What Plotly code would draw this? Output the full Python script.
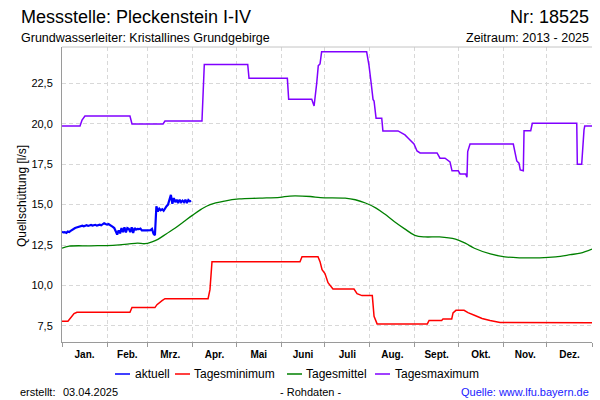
import plotly.graph_objects as go

# ---------------- data ----------------
month_labels = ["Jan.", "Feb.", "Mrz.", "Apr.", "Mai", "Juni", "Juli", "Aug.", "Sept.", "Okt.", "Nov.", "Dez."]
month_starts = [0, 31, 59, 90, 120, 151, 181, 212, 243, 273, 304, 334, 365]
y_ticks = [7.5, 10.0, 12.5, 15.0, 17.5, 20.0, 22.5]

aktuell_day = list(range(90))
aktuell_val = [13.32, 13.28, 13.30, 13.25, 13.33, 13.30, 13.38, 13.45, 13.50, 13.55,
               13.58, 13.62, 13.65, 13.66, 13.70, 13.66, 13.70, 13.72, 13.68, 13.70,
               13.74, 13.70, 13.72, 13.75, 13.70, 13.73, 13.76, 13.72, 13.78, 13.85,
               13.80, 13.76, 13.80, 13.72, 13.65, 13.62, 13.55, 13.35, 13.15, 13.40,
               13.22, 13.55, 13.30, 13.60, 13.28, 13.55, 13.50, 13.30, 13.60, 13.25,
               13.55, 13.45, 13.50, 13.48, 13.52, 13.40, 13.42, 13.40, 13.40, 13.42,
               13.40, 13.42, 13.50, 13.20, 13.10, 14.90, 14.58, 14.75, 14.65, 14.72,
               14.62, 14.80, 14.90, 15.00, 15.25, 15.60, 15.05, 15.40, 15.15, 15.30,
               15.10, 15.30, 15.15, 15.25, 15.15, 15.30, 15.10, 15.28, 15.20, 15.22]

min_day = [0, 4.1, 8.3, 10.3, 46.8, 48.2, 64, 65.4, 68.9, 70.9, 100.6, 101.9, 103.3, 163.9, 165.3,
           176.3, 177.7, 179.1, 181.1, 183.2, 186.6, 201.1, 203.2, 206.6, 213.7, 214.9, 217, 251.6,
           252.8, 261.5, 262.4, 268.4, 269.3, 271.3, 276.9, 279.6, 284.4, 289.3, 294.8, 301.7, 365]
min_val = [7.78, 7.78, 8.26, 8.34, 8.34, 8.63, 8.63, 8.81, 9.06, 9.18, 9.18, 9.74, 11.47, 11.47, 11.78,
           11.78, 11.47, 10.98, 10.73, 10.17, 9.78, 9.78, 9.49, 9.37, 9.37, 8.09, 7.62, 7.62,
           7.83, 7.83, 7.93, 7.93, 8.3, 8.46, 8.46, 8.32, 8.14, 7.95, 7.83, 7.7, 7.69]

mean_day = [0, 5, 20, 35, 45, 52, 57, 62, 66, 72, 78, 84, 90, 96, 102, 112, 122, 136, 150, 157, 171,
            178, 195, 202, 209, 216, 222, 229, 236, 243, 250, 260, 271, 278, 284, 295, 305, 315, 329,
            340, 350, 357, 365]
mean_val = [12.3, 12.43, 12.45, 12.48, 12.55, 12.62, 12.58, 12.7, 12.85, 13.2, 13.55, 13.95, 14.35, 14.72,
            15.0, 15.22, 15.35, 15.4, 15.45, 15.53, 15.5, 15.43, 15.4, 15.3, 15.1, 14.8, 14.43, 13.94,
            13.5, 13.1, 13.0, 13.0, 12.86, 12.6, 12.3, 11.95, 11.77, 11.71, 11.71, 11.77, 11.9, 12.0, 12.25]

max_day = [0, 12.4, 13.8, 15.8, 46.8, 48.2, 69.6, 70.9, 96.4, 98, 127.9, 128.8, 155.2, 156.1, 172,
           173.6, 175.4, 176.5, 177.7, 178.8, 209.8, 211.4, 212.8, 214.2, 214.9, 216.3, 220.2, 221,
           231.4, 234.2, 236.2, 238.3, 240.4, 242.4, 244.5, 246.6, 258.3, 260.3, 263.8, 265.2, 267.2,
           268.6, 272.9, 274.1, 278, 278.9, 279.4, 281, 310.8, 313.2, 314.7, 315.6, 317.7, 318.2,
           322.8, 323.9, 354.5, 354.9, 357.9, 359.5, 360, 365]
max_val = [19.86, 19.86, 20.23, 20.48, 20.48, 19.99, 19.99, 20.17, 20.17, 23.67, 23.67, 22.81, 22.81,
           21.51, 21.51, 21.1, 22.5, 23.6, 23.7, 24.45, 24.45, 23.63, 22.6, 21.51, 21.41, 20.34, 20.34,
           19.56, 19.56, 19.43, 19.31, 19.12, 18.94, 18.75, 18.32, 18.2, 18.2, 17.87, 17.87, 17.78,
           17.64, 17.09, 17.09, 16.9, 16.9, 16.7, 18.28, 18.75, 18.75, 17.7, 17.56, 17.15, 17.1,
           19.57, 19.57, 20.03, 20.03, 17.5, 17.5, 19.62, 19.86, 19.86]

series_names = ["aktuell", "Tagesminimum", "Tagesmittel", "Tagesmaximum"]
series_colors = ["#0000FF", "#FF0000", "#008000", "#8000FF"]

# ---------------- figure ----------------
W, H = 600, 400
L, R, T, B = 62, 592, 47, 342
FONT = "Liberation Sans, Arial, sans-serif"


def px(x):
    return (x - L) / (R - L)


def py(y):
    return (B - y) / (B - T)


fig = go.Figure()
fig.add_trace(go.Scatter(x=max_day, y=max_val, mode="lines", name=series_names[3],
                         line=dict(color=series_colors[3], width=1.5)))
fig.add_trace(go.Scatter(x=mean_day, y=mean_val, mode="lines", name=series_names[2], line_shape="spline",
                         line=dict(color=series_colors[2], width=1.3)))
fig.add_trace(go.Scatter(x=min_day, y=min_val, mode="lines", name=series_names[1],
                         line=dict(color=series_colors[1], width=1.5)))
fig.add_trace(go.Scatter(x=aktuell_day, y=aktuell_val, mode="lines", name=series_names[0],
                         line=dict(color=series_colors[0], width=2.2)))

mids = [(month_starts[i] + month_starts[i + 1]) / 2 for i in range(12)]

fig.update_layout(
    width=W, height=H,
    margin=dict(l=L, r=W - R, t=T, b=H - B),
    paper_bgcolor="white", plot_bgcolor="white",
    showlegend=False,
    separators=",.",
    font=dict(family=FONT, color="black"),
    xaxis=dict(
        range=[0, 365], tickmode="array", tickvals=mids, ticktext=month_labels,
        ticks="", showgrid=False, zeroline=False,
        showline=True, linecolor="#9a9a9a", linewidth=1,
        tickfont=dict(size=10, weight="bold", family=FONT),
        ticklabelstandoff=3,
        minor=dict(tickmode="array", tickvals=month_starts, ticks="outside", ticklen=4,
                   tickcolor="#9a9a9a", showgrid=True, gridcolor="#d8d8d8", griddash="4px,3px",
                   gridwidth=1),
    ),
    yaxis=dict(
        range=[6.5, 24.75], tickmode="array", tickvals=y_ticks, tickformat=".1f",
        ticks="", showgrid=True, gridcolor="#d8d8d8", griddash="4px,3px", gridwidth=1,
        zeroline=False, showline=True, linecolor="#9a9a9a", linewidth=1,
        tickfont=dict(size=11, family=FONT), ticklabelstandoff=6,
    ),
)

shapes = [dict(type="line", xref="paper", yref="paper", x0=0, x1=1, y0=1, y1=1,
               line=dict(color="#c4c4c4", width=1))]
annotations = []


def text(x, y, s, size, xanchor="left", color="black", angle=0):
    annotations.append(dict(x=px(x), y=py(y), xref="paper", yref="paper", text=s, showarrow=False,
                            xanchor=xanchor, yanchor="middle", borderpad=0, borderwidth=0,
                            textangle=angle, font=dict(size=size, color=color, family=FONT)))


# header
text(21, 17, "Messstelle: Pleckenstein I-IV", 18)
text(589, 17, "Nr: 18525", 18, xanchor="right")
text(21, 38, "Grundwasserleiter: Kristallines Grundgebirge", 12.5)
text(589, 38, "Zeitraum: 2013 - 2025", 12.5, xanchor="right")

# y axis title
text(22, 196, "Quellschüttung [l/s]", 12, xanchor="center", angle=-90)

# legend (manual)
leg_line_x = [115, 175, 287, 375]
leg_text_x = [135, 194, 306, 395]
for name, col, lx, tx in zip(series_names, series_colors, leg_line_x, leg_text_x):
    shapes.append(dict(type="line", xref="paper", yref="paper", x0=px(lx), x1=px(lx + 15),
                       y0=py(374), y1=py(374), line=dict(color=col, width=1.5)))
    text(tx, 374, name, 12)

# footer
text(20, 392, "erstellt:", 11)
text(63, 392, "03.04.2025", 11)
text(310, 392, "- Rohdaten -", 11, xanchor="center")
text(589, 392, "Quelle: www.lfu.bayern.de", 11, xanchor="right", color="#1a1aff")

fig.update_layout(shapes=shapes, annotations=annotations)
fig.write_html("out.html", config={"displayModeBar": False},
               post_script="document.body.style.margin='0px';document.body.style.padding='0px';")
